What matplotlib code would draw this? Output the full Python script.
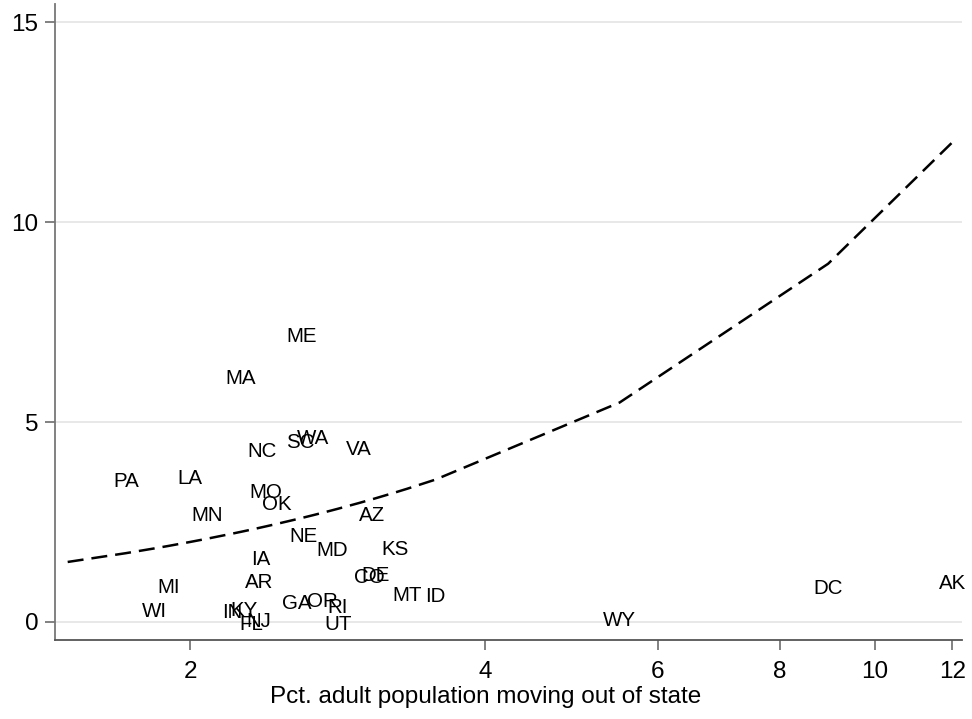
import numpy as np
import matplotlib
matplotlib.use("Agg")
import matplotlib.pyplot as plt
from matplotlib.ticker import FixedLocator, NullLocator

plt.rcParams['font.family'] = ['Liberation Sans', 'DejaVu Sans']

# state labels, x = pct moving out of state, y = outcome
states = ["ME", "MA", "NC", "SC", "WA", "VA", "PA", "LA", "MO", "OK", "MN", "AZ",
          "NE", "MD", "KS", "IA", "AR", "CO", "DE", "MI", "MT", "ID", "WI", "IN",
          "KY", "FL", "NJ", "GA", "OR", "RI", "UT", "WY", "DC", "AK"]
pct_out = [2.60, 2.25, 2.37, 2.59, 2.67, 2.97, 1.72, 2.00, 2.39, 2.45, 2.08, 3.07,
           2.61, 2.79, 3.24, 2.36, 2.35, 3.05, 3.09, 1.90, 3.33, 3.56, 1.84, 2.21,
           2.27, 2.31, 2.35, 2.57, 2.73, 2.83, 2.83, 5.49, 8.96, 12.0]
yval = [7.15, 6.08, 4.26, 4.48, 4.58, 4.31, 3.51, 3.58, 3.23, 2.93, 2.66, 2.66,
        2.13, 1.78, 1.81, 1.56, 0.98, 1.11, 1.16, 0.86, 0.66, 0.63, 0.26, 0.23,
        0.28, -0.07, 0.01, 0.46, 0.50, 0.36, -0.07, 0.03, 0.83, 0.96]

line_x = [1.5] + sorted(pct_out)  # 45-degree reference line

xticks = [2, 4, 6, 8, 10, 12]
yticks = [0, 5, 10, 15]

fig = plt.figure(figsize=(9.72, 7.19), dpi=100)
ax = fig.add_axes([0.0566, 0.110, 0.933, 0.884])

ax.set_xscale("log")
ax.set_xlim(1.456, 12.27)
ax.set_ylim(-0.45, 15.45)

for yt in yticks:
    ax.axhline(yt, color="#e6e6e6", lw=1.3, zorder=0)

ax.plot(line_x, line_x, color="black", lw=1.8, linestyle=(0, (6.4, 3.2)))

for s, x, y in zip(states, pct_out, yval):
    ax.text(x, y, s, fontsize=14.8, ha="center", va="center")

ax.xaxis.set_major_locator(FixedLocator(xticks))
ax.xaxis.set_minor_locator(NullLocator())
ax.set_xticklabels([str(t) for t in xticks])
ax.set_yticks(yticks)

for side in ["top", "right"]:
    ax.spines[side].set_visible(False)
ax.spines["left"].set_color("#777777")
ax.spines["bottom"].set_color("#555555")
ax.spines["left"].set_linewidth(1.3)
ax.spines["bottom"].set_linewidth(1.3)
ax.tick_params(axis="both", labelsize=17.5, length=7, width=1.3, color="#777777")
ax.tick_params(axis="y", pad=5)
ax.tick_params(axis="x", pad=8)

ax.set_xlabel("Pct. adult population moving out of state", fontsize=17.5)
ax.xaxis.set_label_coords(0.475, -0.09)
ax.xaxis.label.set_va("center")

fig.savefig("out.png", dpi=100)
